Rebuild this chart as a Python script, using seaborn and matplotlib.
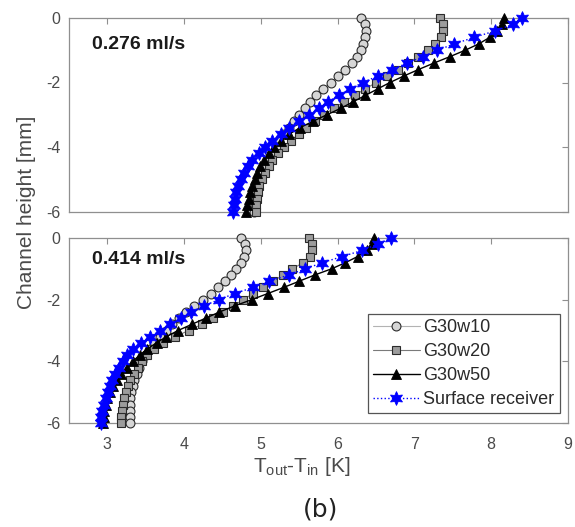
import numpy as np
import pandas as pd
import matplotlib
matplotlib.use("Agg")
import matplotlib.pyplot as plt
from matplotlib.lines import Line2D
import seaborn as sns

# Channel height positions [mm]
heights = [0.0, -0.2, -0.4, -0.6, -0.8, -1.0, -1.2, -1.4, -1.6, -1.8,
           -2.0, -2.2, -2.4, -2.6, -2.8, -3.0, -3.2, -3.4, -3.6, -3.8,
           -4.0, -4.2, -4.4, -4.6, -4.8, -5.0, -5.2, -5.4, -5.6, -5.8, -6.0]

# Tout - Tin [K] at 0.276 ml/s
low_w10 = [6.31, 6.36, 6.37, 6.36, 6.33, 6.30, 6.25, 6.18, 6.10, 6.01,
           5.91, 5.81, 5.72, 5.64, 5.57, 5.50, 5.43, 5.37, 5.30, 5.24,
           5.19, 5.14, 5.09, 5.05, 5.02, 4.99, 4.96, 4.94, 4.93, 4.92, 4.91]
low_w20 = [7.33, 7.37, 7.37, 7.34, 7.27, 7.17, 7.05, 6.91, 6.78, 6.64,
           6.50, 6.36, 6.22, 6.08, 5.95, 5.82, 5.70, 5.59, 5.49, 5.39,
           5.30, 5.22, 5.15, 5.10, 5.05, 5.01, 4.98, 4.96, 4.95, 4.94, 4.94]
low_w50 = [8.17, 8.14, 8.08, 7.98, 7.84, 7.66, 7.46, 7.25, 7.05, 6.86,
           6.68, 6.52, 6.36, 6.20, 6.04, 5.86, 5.68, 5.51, 5.37, 5.26,
           5.17, 5.10, 5.04, 4.99, 4.95, 4.92, 4.89, 4.86, 4.84, 4.82, 4.81]
low_sr = [8.40, 8.28, 8.05, 7.78, 7.52, 7.30, 7.11, 6.90, 6.71, 6.52,
          6.33, 6.16, 6.02, 5.87, 5.76, 5.63, 5.49, 5.36, 5.26, 5.15,
          5.05, 4.97, 4.89, 4.83, 4.78, 4.74, 4.70, 4.68, 4.66, 4.65, 4.63]

# Tout - Tin [K] at 0.414 ml/s
high_w10 = [4.74, 4.79, 4.80, 4.78, 4.74, 4.68, 4.61, 4.53, 4.44, 4.35,
            4.24, 4.13, 4.02, 3.93, 3.84, 3.76, 3.68, 3.61, 3.55, 3.50,
            3.45, 3.41, 3.38, 3.35, 3.33, 3.31, 3.30, 3.29, 3.29, 3.29, 3.29]
high_w20 = [5.63, 5.67, 5.67, 5.64, 5.55, 5.41, 5.29, 5.16, 5.03, 4.90,
            4.77, 4.64, 4.51, 4.37, 4.23, 4.06, 3.88, 3.73, 3.61, 3.52,
            3.45, 3.40, 3.35, 3.30, 3.27, 3.24, 3.22, 3.20, 3.19, 3.18, 3.18]
high_w50 = [6.47, 6.45, 6.38, 6.26, 6.10, 5.92, 5.70, 5.50, 5.30, 5.09,
            4.88, 4.66, 4.46, 4.28, 4.10, 3.92, 3.77, 3.64, 3.52, 3.42,
            3.33, 3.25, 3.18, 3.12, 3.07, 3.03, 3.00, 2.98, 2.96, 2.95, 2.94]
high_sr = [6.70, 6.52, 6.32, 6.06, 5.80, 5.58, 5.36, 5.11, 4.90, 4.66,
           4.45, 4.26, 4.09, 3.96, 3.82, 3.69, 3.56, 3.44, 3.34, 3.26,
           3.20, 3.15, 3.10, 3.06, 3.03, 3.01, 2.98, 2.95, 2.93, 2.92, 2.92]

series_names = ["G30w10", "G30w20", "G30w50", "Surface receiver"]
flow_labels = ["0.276 ml/s", "0.414 ml/s"]
x_ticks = [3, 4, 5, 6, 7, 8, 9]
y_ticks = [0, -2, -4, -6]

styles = {
    "G30w10": dict(color="#b3b3b3", lw=0.8, ls="-", marker="o", ms=6.4,
                   mfc="#d6d6d6", mec="#2b2b2b", mew=0.8),
    "G30w20": dict(color="#7a7a7a", lw=0.8, ls="-", marker="s", ms=5.1,
                   mfc="#9c9c9c", mec="#2b2b2b", mew=0.8),
    "G30w50": dict(color="black", lw=1.0, ls="-", marker="^", ms=7.2,
                   mfc="black", mec="black", mew=0.6),
    "Surface receiver": dict(color="#0000ff", lw=1.0, ls=":", marker=(6, 1, 0),
                             ms=10, mfc="#0000ff", mec="#0000ff", mew=0.6),
}

sns.set_theme(style="white")
plt.rcParams["font.family"] = ["Liberation Sans", "DejaVu Sans"]
plt.rcParams["mathtext.default"] = "regular"
plt.rcParams["axes.unicode_minus"] = False

text_col = "#4a4a4a"
spine_col = "#8f8f8f"

fig = plt.figure(figsize=(5.75, 5.27), dpi=100)
W, H = 575, 527
ax_top = fig.add_axes([69 / W, 1 - 211.5 / H, 499 / W, 193.5 / H])
ax_bot = fig.add_axes([69 / W, 1 - 423 / H, 499 / W, 185 / H])

panels = [
    (ax_top, [low_w10, low_w20, low_w50, low_sr], flow_labels[0], 0.862),
    (ax_bot, [high_w10, high_w20, high_w50, high_sr], flow_labels[1], 0.886),
]

for ax, vals, flow, ty in panels:
    for name, v in zip(series_names, vals):
        df = pd.DataFrame({"dT": v, "h": heights})
        sns.lineplot(data=df, x="dT", y="h", sort=False, estimator=None,
                     ax=ax, legend=False, clip_on=False, zorder=3,
                     **styles[name])
    ax.set_xlim(2.5, 9)
    ax.set_ylim(-6, 0)
    ax.set_xticks(x_ticks)
    ax.set_yticks(y_ticks)
    ax.set_xlabel("")
    ax.set_ylabel("")
    ax.tick_params(direction="in", length=4, width=0.8, color=spine_col,
                   top=True, right=True, labelsize=11.5, labelcolor=text_col,
                   pad=6)
    ax.tick_params(axis="x", pad=10)
    for sp in ax.spines.values():
        sp.set_color(spine_col)
        sp.set_linewidth(0.9)
        sp.set_zorder(1)
    ax.text(0.046, ty, flow, transform=ax.transAxes, fontsize=14,
            fontweight="bold", color="#1a1a1a", va="center", ha="left")

ax_top.tick_params(labelbottom=False)

handles = [Line2D([], [], **styles[n]) for n in series_names]
leg = ax_bot.legend(handles, series_names, loc="lower right",
                    bbox_to_anchor=(0.984, 0.052), borderaxespad=0,
                    fontsize=13, frameon=True, fancybox=False, framealpha=1,
                    edgecolor="#555555", handlelength=2.6,
                    borderpad=0.3, labelspacing=0.38, handletextpad=0.2)
leg.get_frame().set_linewidth(0.9)
leg.set_zorder(5)
for t in leg.get_texts():
    t.set_color("#2a2a2a")

fig.text(27 / W, 1 - 212 / H, "Channel height [mm]", rotation=90,
         fontsize=15, color=text_col, ha="center", va="center")
fig.text(302 / W, 1 - 467 / H, r"T$_{out}$-T$_{in}$ [K]", fontsize=15,
         color=text_col, ha="center", va="center")
fig.text(321 / W, 1 - 510 / H, "(b)", fontsize=18, color="#222222",
         ha="center", va="center", family="DejaVu Sans")

fig.savefig("out.png", dpi=100)
